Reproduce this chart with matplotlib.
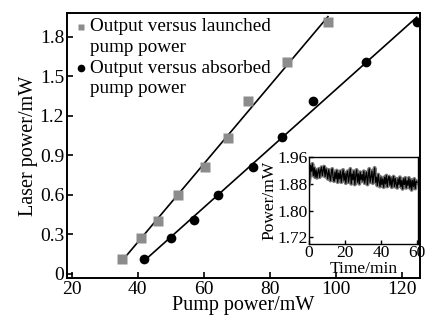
import numpy as np
import matplotlib.pyplot as plt

plt.rcParams['font.family'] = ['Liberation Serif', 'DejaVu Serif']

# launched pump power (squares) and absorbed pump power (circles), mW
launched_x = [35.2, 40.9, 46.1, 52.1, 60.3, 67.3, 73.3, 85.2, 97.6]
launched_y = [0.11, 0.27, 0.40, 0.60, 0.81, 1.03, 1.31, 1.61, 1.91]
absorbed_x = [41.8, 50.0, 57.0, 64.2, 74.8, 83.6, 93.0, 109.1, 124.5]
absorbed_y = [0.11, 0.27, 0.41, 0.60, 0.81, 1.04, 1.31, 1.61, 1.91]

# stability trace for the inset, one reading every half minute
trace_t = np.arange(0, 60.5, 0.5)
trace_p = [
    1.878, 1.900, 1.935, 1.918, 1.940, 1.905, 1.928, 1.900, 1.922, 1.898,
    1.915, 1.925, 1.900, 1.920, 1.930, 1.905, 1.922, 1.932, 1.902, 1.925,
    1.912, 1.895, 1.922, 1.905, 1.890, 1.915, 1.925, 1.898, 1.888, 1.915,
    1.895, 1.920, 1.885, 1.912, 1.895, 1.918, 1.885, 1.905, 1.922, 1.890,
    1.912, 1.882, 1.908, 1.918, 1.885, 1.905, 1.925, 1.880, 1.910, 1.892,
    1.918, 1.878, 1.905, 1.922, 1.885, 1.910, 1.880, 1.915, 1.892, 1.908,
    1.888, 1.918, 1.882, 1.902, 1.915, 1.878, 1.905, 1.925, 1.885, 1.902,
    1.918, 1.882, 1.908, 1.928, 1.885, 1.900, 1.875, 1.908, 1.888, 1.872,
    1.900, 1.878, 1.895, 1.870, 1.900, 1.880, 1.905, 1.872, 1.895, 1.902,
    1.876, 1.898, 1.870, 1.892, 1.902, 1.872, 1.896, 1.880, 1.868, 1.895,
    1.878, 1.900, 1.872, 1.890, 1.865, 1.895, 1.878, 1.898, 1.868, 1.890,
    1.875, 1.898, 1.868, 1.892, 1.862, 1.890, 1.872, 1.895, 1.866, 1.888,
    1.885,
]

fig = plt.figure(figsize=(4.26, 3.22), dpi=100)
ax = fig.add_axes([0.157, 0.137, 0.829, 0.823])

# linear fits
k1, b1 = np.polyfit(launched_x, launched_y, 1)
k2, b2 = np.polyfit(absorbed_x, absorbed_y, 1)
xf1 = np.array([min(launched_x), max(launched_x)])
xf2 = np.array([min(absorbed_x), max(absorbed_x)])
ax.plot(xf1, k1 * xf1 + b1, color='black', lw=1.2, zorder=2)
ax.plot(xf2, k2 * xf2 + b2, color='black', lw=1.2, zorder=2)

ax.plot(launched_x, launched_y, 's', color='#8c8c8c', ms=6.5, mec='none', zorder=3)
ax.plot(absorbed_x, absorbed_y, 'o', color='black', ms=7, mec='none', zorder=3)

ax.set_xlim(18.5, 125.5)
ax.set_ylim(-0.03, 1.98)
ax.set_xticks([20, 40, 60, 80, 100, 120])
ax.set_yticks([0, 0.3, 0.6, 0.9, 1.2, 1.5, 1.8])
ax.set_yticklabels(['0', '0.3', '0.6', '0.9', '1.2', '1.5', '1.8'])
ax.tick_params(direction='in', labelsize=14, length=4, width=1.2, pad=2)
for s in ax.spines.values():
    s.set_linewidth(1.4)
ax.set_xlabel('Pump power/mW', fontsize=14.5, labelpad=-1)
ax.set_ylabel('Laser power/mW', fontsize=14.5, labelpad=1)

# hand-placed legend
ax.plot([0.040], [0.947], 's', color='#8c8c8c', ms=5, mec='none', transform=ax.transAxes)
ax.plot([0.040], [0.792], 'o', color='black', ms=5.5, mec='none', transform=ax.transAxes)
leg_lines = ['Output versus launched', 'pump power', 'Output versus absorbed', 'pump power']
for txt, yy in zip(leg_lines, [0.947, 0.868, 0.792, 0.713]):
    ax.text(0.065, yy, txt, transform=ax.transAxes, fontsize=13.8, va='center', ha='left')

# inset
ins = fig.add_axes([0.725, 0.242, 0.256, 0.270])
ins.plot(trace_t, trace_p, color='#7a7a7a', lw=2.8)
ins.plot(trace_t, trace_p, color='black', lw=0.9)
ins.set_xlim(0, 60.5)
ins.set_ylim(1.70, 1.96)
ins.set_xticks([0, 20, 40, 60])
ins.set_yticks([1.72, 1.80, 1.88, 1.96])
ins.set_yticklabels(['1.72', '1.80', '1.88', '1.96'])
ins.tick_params(direction='in', labelsize=12.5, length=3, width=1.0, pad=1)
for s in ins.spines.values():
    s.set_linewidth(1.0)
ins.set_xlabel('Time/min', fontsize=12.5, labelpad=0)
ins.set_ylabel('Power/mW', fontsize=12.5, labelpad=0)

fig.savefig('out.png', dpi=100)
